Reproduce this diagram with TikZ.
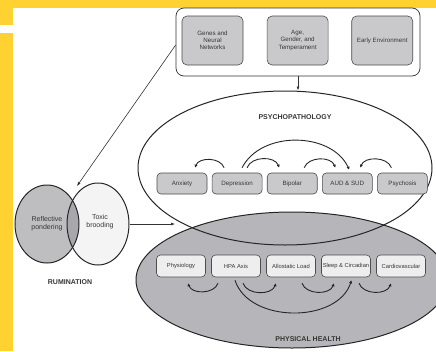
\documentclass[tikz,border=0pt]{standalone}
\usepackage{fontspec}
\setmainfont{Liberation Sans}
\usetikzlibrary{arrows.meta}
\usetikzlibrary{positioning,shapes.geometric}
\definecolor{bandyellow}{RGB}{255,210,50}
\definecolor{boxgrey}{RGB}{201,201,203}
\definecolor{healthgrey}{RGB}{182,182,186}
\definecolor{healthbox}{RGB}{238,238,238}
\definecolor{reflgrey}{RGB}{190,190,192}
\definecolor{overlapgrey}{RGB}{168,168,172}
\definecolor{toxwhite}{RGB}{244,244,244}
\definecolor{inkgrey}{RGB}{55,55,55}

\begin{document}
\begin{tikzpicture}[
x=1pt,y=-1pt,
every node/.style={text=inkgrey},
GreyBox/.style={draw=black!70,fill=boxgrey,rounded corners=4pt,line width=0.6pt,
  inner sep=1pt,align=center,font=\fontsize{6.2}{7.2}\selectfont},
HealthBox/.style={GreyBox,fill=healthbox,minimum width=49pt,minimum height=22pt,
  font=\fontsize{5.8}{6.8}\selectfont},
PsyBox/.style={GreyBox,minimum width=50pt,minimum height=21pt},
TopBox/.style={GreyBox,minimum width=61pt,minimum height=49pt,rounded corners=5pt},
Blob/.style={ellipse,draw=black!85,line width=1pt},
Title/.style={font=\bfseries\fontsize{7}{8}\selectfont},
Arc/.style={-{Latex[length=3pt,width=3.2pt]},line width=0.9pt,draw=black!85},
Link/.style={-{Latex[length=4pt,width=3pt]},line width=0.6pt,draw=black!80}
]
\clip (0,0) rectangle (436,351);
\fill[white] (0,0) rectangle (436,351);

% yellow page edges
\fill[bandyellow] (0,0) rectangle (436,8);
\fill[bandyellow] (0,0) rectangle (13,25);
\fill[bandyellow] (0,33) rectangle (13,351);

% centres of the big shapes
\coordinate (P) at (285,168);
\coordinate (H) at (292,280);
\coordinate (R) at (47,224);
\coordinate (T) at (98,224);
\coordinate (rumtop) at (77,186);
\coordinate (jn) at (175,224);

% fills first, outlines afterwards
\fill[white] (P) ellipse [x radius=147pt, y radius=77pt];
\fill[healthgrey] (H) ellipse [x radius=156pt, y radius=68pt];
\fill[reflgrey] (R) ellipse [x radius=32pt, y radius=39pt];
\fill[toxwhite] (T) ellipse [x radius=31pt, y radius=41pt];
\begin{scope}
\clip (R) ellipse [x radius=32pt, y radius=39pt];
\fill[overlapgrey] (T) ellipse [x radius=31pt, y radius=41pt];
\end{scope}

\node[Blob,minimum width=294pt,minimum height=154pt] (psy) at (P) {};
\node[Blob,minimum width=312pt,minimum height=136pt] (phys) at (H) {};
\node[Blob,minimum width=64pt,minimum height=78pt,align=center,
  font=\fontsize{7}{8}\selectfont] (refl) at (R) {Reflective\\pondering};
\node[Blob,minimum width=62pt,minimum height=82pt] (tox) at (T) {};
\node[align=center,font=\fontsize{7}{8}\selectfont] (toxt) at (100,222) {Toxic\\brooding};

% top box with the three risk factors
\node[draw=black!80,fill=white,rounded corners=8pt,line width=0.7pt,
  minimum width=244pt,minimum height=68pt] (genv) at (298,42) {};
\node[TopBox] (genes) at (212.5,40.5) {Genes and\\Neural\\Networks};
\node[TopBox,right=23.5pt of genes] (age) {Age,\\Gender, and\\Temperament};
\node[TopBox,right=23pt of age] (early) {Early Environment};

% psychopathology row
\node[PsyBox] (anx) at (182,183.5) {Anxiety};
\node[PsyBox,right=4.5pt of anx] (dep) {Depression};
\node[PsyBox,right=4.5pt of dep] (bip) {Bipolar};
\node[PsyBox,right=4.5pt of bip] (aud) {AUD \& SUD};
\node[PsyBox,right=4.5pt of aud] (psych) {Psychosis};

% physical health row
\node[HealthBox] (physio) at (181,266) {Physiology};
\node[HealthBox,right=5.4pt of physio] (hpa) {HPA Axis};
\node[HealthBox,right=5.4pt of hpa] (allo) {Allostatic Load};
\node[HealthBox,right=5.4pt of allo] (sleep) {Sleep \& Circadian};
\node[HealthBox,right=5.4pt of sleep] (cardio) {Cardiovascular};

\node[Title] (psylab) at (295,117) {PSYCHOPATHOLOGY};
\node[Title] (physlab) at (308,339) {PHYSICAL HEALTH};
\node[Title] (rumlab) at (70,282) {RUMINATION};

% links between the blocks
\draw[Link] (genv.south) -- (genv.south |- psy.north);
\draw[Link] ([yshift=-3pt]genv.west) -- (rumtop);
\draw[Link] (tox.east) -- (jn);

% arcs above the psychopathology boxes
\draw[Arc] ([xshift=-13pt,yshift=5pt]dep.north) to[out=110,in=70] ([xshift=13pt,yshift=5pt]anx.north);
\draw[Arc] ([xshift=10pt,yshift=5pt]dep.north) to[out=70,in=110] ([xshift=-13pt,yshift=5pt]bip.north);
\draw[Arc] ([xshift=12pt,yshift=5pt]bip.north) to[out=70,in=110] ([xshift=-12pt,yshift=5pt]aud.north);
\draw[Arc] ([xshift=-11pt,yshift=5pt]psych.north) to[out=110,in=70] ([xshift=13pt,yshift=5pt]aud.north);
\draw[Arc] ([xshift=5pt,yshift=5pt]dep.north) to[out=63,in=115] ([xshift=2pt,yshift=3pt]aud.north);

% arcs below the physical health boxes
\draw[Arc] ([xshift=-18pt,yshift=-6pt]hpa.south) to[out=-110,in=-70] ([xshift=7pt,yshift=-6pt]physio.south);
\draw[Arc] ([xshift=7pt,yshift=-6pt]hpa.south) to[out=-70,in=-110] ([xshift=-15pt,yshift=-6pt]allo.south);
\draw[Arc] ([xshift=11pt,yshift=-6pt]allo.south) to[out=-70,in=-110] ([xshift=-12pt,yshift=-6pt]sleep.south);
\draw[Arc] ([xshift=13pt,yshift=-6pt]sleep.south) to[out=-70,in=-110] ([xshift=-10pt,yshift=-6pt]cardio.south);
\draw[Arc] ([xshift=-1pt,yshift=-3pt]hpa.south) to[out=-72,in=-108] ([xshift=5.5pt,yshift=-3pt]sleep.south);

\end{tikzpicture}
\end{document}
